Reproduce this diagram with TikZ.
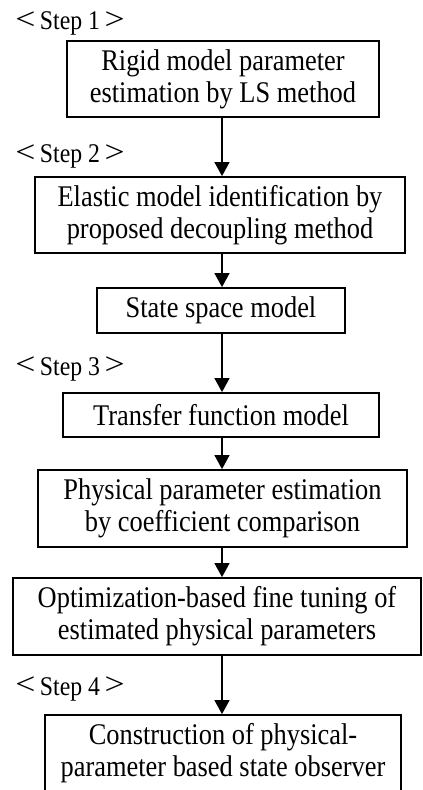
\documentclass[tikz,border=0pt]{standalone}
\usepackage{fontspec}
\setmainfont[FakeStretch = 0.88]{Liberation Serif}
\usetikzlibrary{arrows.meta}

\newcommand{\steptag}[1]{\raisebox{0.2pt}{\scalebox{1.5}[1.15]{<}}\,Step #1\,\raisebox{0.2pt}{\scalebox{1.5}[1.15]{>}}}

\tikzset{
  procbox/.style = {draw, line width = 0.9pt, inner sep = 0pt, align = center,
    font = \fontsize{15}{16}\selectfont},
  steplabel/.style = {anchor = base west, inner sep = 0pt,
    font = \fontsize{13.5}{14}\selectfont},
  flow/.style = {line width = 0.65pt, -{Triangle[width = 7.5pt, length = 7pt]}}
}

\begin{document}
\begin{tikzpicture}[x = 0.5pt, y = -0.5pt]
		\useasboundingbox (0, 0) rectangle (422, 790);
		\coordinate (spine) at (222, 0);
		% step labels
		\node[steplabel] (s1) at (15, 30) {\steptag{1}};
		\node[steplabel] (s2) at (15, 163) {\steptag{2}};
		\node[steplabel] (s3) at (15, 375) {\steptag{3}};
		\node[steplabel] (s4) at (15, 695) {\steptag{4}};
		% process boxes
		\node[procbox, minimum width = 156pt, minimum height = 38pt] (rigid) at (223, 79)
			{Rigid model parameter\\estimation by LS method};
		\node[procbox, minimum width = 185pt, minimum height = 38pt] (elastic) at (220, 215)
			{Elastic model identification by\\proposed decoupling method};
		\node[procbox, minimum width = 124pt, minimum height = 22.5pt] (ss) at (221, 310.5)
			{State space model};
		\node[procbox, minimum width = 158pt, minimum height = 22pt] (tf) at (221, 415)
			{Transfer function model};
		\node[procbox, minimum width = 184.5pt, minimum height = 38.5pt] (phys) at (222.5, 508.5)
			{Physical parameter estimation\\by coefficient comparison};
		\node[procbox, minimum width = 204pt, minimum height = 38.5pt] (tune) at (217, 616.5)
			{Optimization-based fine tuning of\\estimated physical parameters};
		\node[procbox, minimum width = 178pt, minimum height = 38.5pt] (obs) at (223, 753.5)
			{Construction of physical-\\parameter based state observer};
		% connectors
		\foreach \a/\b in {rigid/elastic, elastic/ss, ss/tf, tf/phys, phys/tune, tune/obs}
			\draw[flow] (\a.south -| spine) -- (\b.north -| spine);
\end{tikzpicture}
\end{document}
